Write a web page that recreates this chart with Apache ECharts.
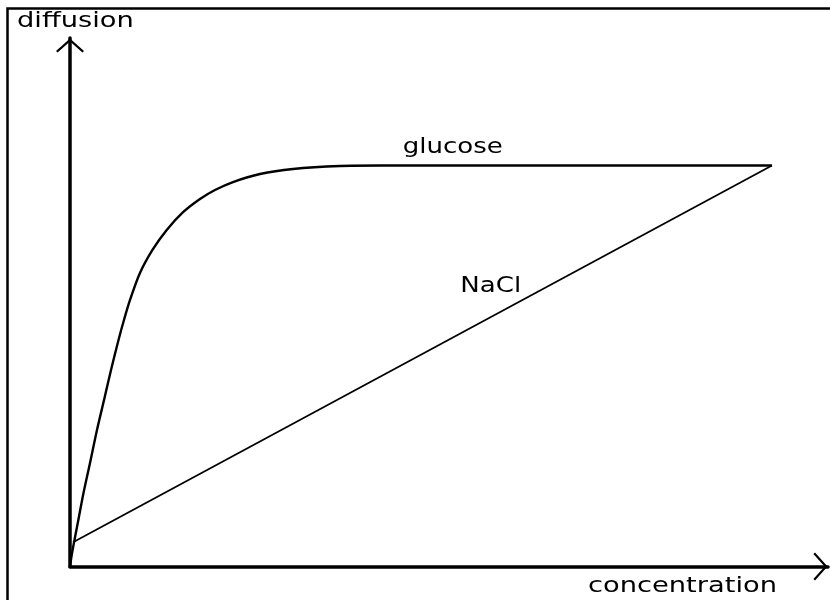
<!DOCTYPE html>
<html>
<head>
<meta charset="utf-8">
<script src="https://cdn.jsdelivr.net/npm/echarts@6/dist/echarts.min.js"></script>
<style>
  html, body { margin: 0; padding: 0; background: #fff; }
  #main { width: 830px; height: 600px; }
</style>
</head>
<body>
<div id="main"></div>
<script>
// points, [concentration, diffusion] on a 0..100 scale
var glucose = [
    [0, 0], [0.16, 1.61], [0.44, 3.88], [1.1, 8.8], [1.78, 13.91], [2.64, 19.58],
    [3.56, 25.83], [4.49, 31.5], [5.41, 37.18], [6.4, 42.86], [7.12, 46.64],
    [7.92, 50.43], [9.23, 55.53], [10.88, 59.89], [12.76, 63.67], [14.95, 67.08],
    [17.15, 69.54], [19.13, 71.24], [21.5, 72.75], [25.07, 74.27], [29.42, 75.21],
    [35.62, 75.78], [40.9, 75.87], [92.61, 75.87]
];
var nacl = [[0.4, 4.6], [92.61, 75.87]];
var seriesNames = ['glucose', 'NaCl'];
var axisNames = ['concentration', 'diffusion'];

var chartDom = document.getElementById('main');
var myChart = echarts.init(chartDom);
var option;

// open chevron, tip at the top
var arrow = 'path://M15,0 L30,13.5 L28.3,15.2 L15,3.2 L1.7,15.2 L0,13.5 Z';

var axisStyle = {
    show: true,
    symbol: ['none', arrow],
    symbolSize: [28, 15],
    symbolOffset: [0, -7.5],
    lineStyle: { color: '#000', width: 3.5 }
};

option = {
    animation: false,
    backgroundColor: '#fff',
    grid: { left: 70, right: 2, top: 38, bottom: 33.5 },
    xAxis: {
        type: 'value',
        min: 0,
        max: 100,
        axisLine: axisStyle,
        axisTick: { show: false },
        axisLabel: { show: false },
        splitLine: { show: false }
    },
    yAxis: {
        type: 'value',
        min: 0,
        max: 100,
        axisLine: axisStyle,
        axisTick: { show: false },
        axisLabel: { show: false },
        splitLine: { show: false }
    },
    series: [
        {
            name: seriesNames[0],
            type: 'line',
            data: glucose,
            smooth: 0.3,
            symbol: 'none',
            lineStyle: { color: '#000', width: 2.4 }
        },
        {
            name: seriesNames[1],
            type: 'line',
            data: nacl,
            symbol: 'none',
            lineStyle: { color: '#000', width: 1.8 }
        }
    ]
};

option && myChart.setOption(option);

function label(text, x, y, size) {
    return {
        type: 'text',
        x: x,
        y: y,
        scaleX: 1.24,
        style: {
            text: text,
            fontFamily: 'DejaVu Sans',
            fontSize: size,
            fill: '#000',
            align: 'left',
            verticalAlign: 'middle'
        }
    };
}

var pG = myChart.convertToPixel({ gridIndex: 0 }, [43.9, 77.9]);
var pN = myChart.convertToPixel({ gridIndex: 0 }, [51.5, 51.7]);

myChart.setOption({
    graphic: [
        {
            type: 'polyline',
            shape: { points: [[7.5, 600], [7.5, 8.5], [830, 8.5]] },
            style: { stroke: '#000', lineWidth: 2.5, fill: null }
        },
        label(axisNames[1], 17, 21, 22),
        label(axisNames[0], 588, 586, 22),
        label(seriesNames[0], pG[0], pG[1] - 7, 21),
        label(seriesNames[1], pN[0], pN[1] - 7, 21)
    ]
});
</script>
</body>
</html>
